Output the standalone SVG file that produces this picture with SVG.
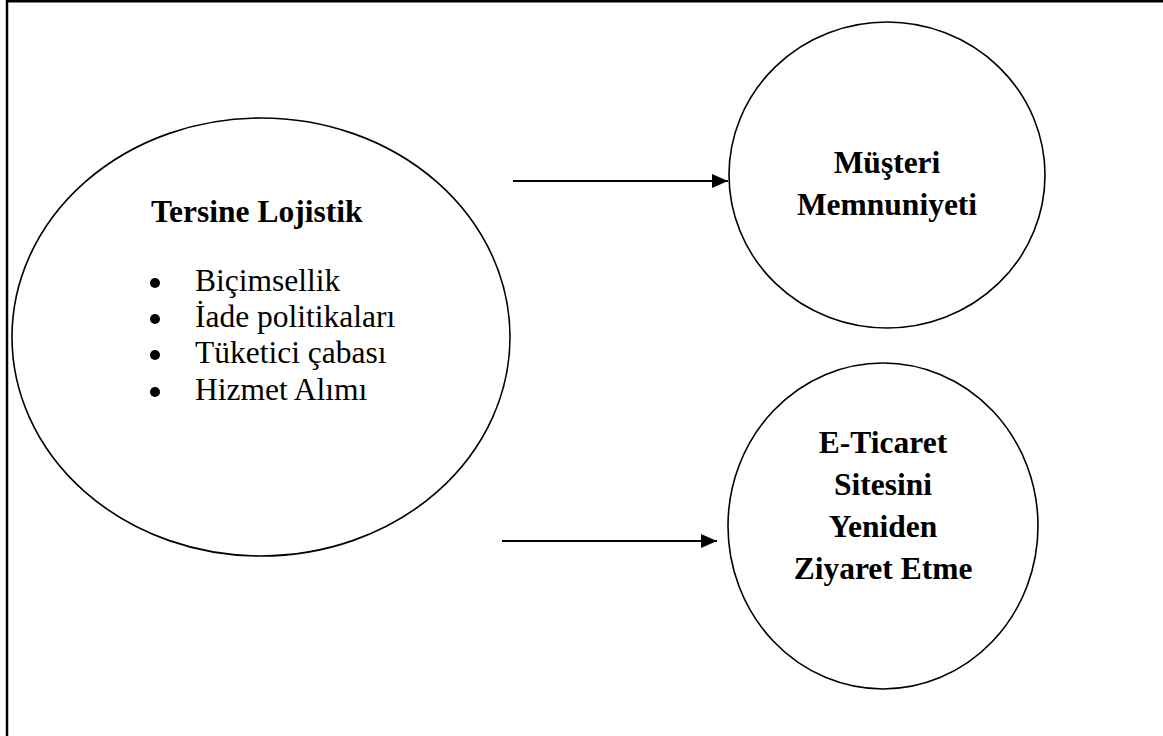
<svg xmlns="http://www.w3.org/2000/svg" width="1163" height="736" viewBox="0 0 1163 736">
<style>
.shape{fill:none;stroke:#000;stroke-width:1.6}
.frame{fill:none;stroke:#000;stroke-width:2.5}
.conn{stroke:#000;stroke-width:2}
.t{font-family:"Liberation Serif","Times New Roman",serif;font-size:31.5px;fill:#000}
.b{font-weight:bold}
.m{text-anchor:middle}
</style>
<defs>
<marker id="arr" viewBox="0 0 16 14" refX="16" refY="7" markerWidth="16" markerHeight="14" markerUnits="userSpaceOnUse" orient="auto">
<path d="M0,0 L16,7 L0,14 Z" fill="#000"/>
</marker>
</defs>
<rect width="1163" height="736" fill="#fff"/>
<path class="frame" d="M7,736 L7,1.2 L1163,1.2"/>
<g id="node-tersine">
<ellipse class="shape" cx="261" cy="337" rx="249" ry="219"/>
<text class="t b" x="151" y="222">Tersine Lojistik</text>
<circle cx="155" cy="283" r="5"/>
<text class="t" x="195" y="291">Biçimsellik</text>
<circle cx="155" cy="319" r="5"/>
<text class="t" x="195" y="327">İade politikaları</text>
<circle cx="155" cy="355" r="5"/>
<text class="t" x="195" y="363">Tüketici çabası</text>
<circle cx="155" cy="392" r="5"/>
<text class="t" x="195" y="400">Hizmet Alımı</text>
</g>
<g id="node-musteri">
<ellipse class="shape" cx="887" cy="175" rx="158" ry="153"/>
<text class="t b m" x="887" y="173">Müşteri</text>
<text class="t b m" x="887" y="215">Memnuniyeti</text>
</g>
<g id="node-eticaret">
<ellipse class="shape" cx="883" cy="526" rx="155" ry="163"/>
<text class="t b m" x="883" y="453">E-Ticaret</text>
<text class="t b m" x="883" y="495">Sitesini</text>
<text class="t b m" x="883" y="537">Yeniden</text>
<text class="t b m" x="883" y="579">Ziyaret Etme</text>
</g>
<g id="connectors">
<line class="conn" x1="513" y1="181" x2="728" y2="181" marker-end="url(#arr)"/>
<line class="conn" x1="502" y1="541" x2="717" y2="541" marker-end="url(#arr)"/>
</g>
</svg>
